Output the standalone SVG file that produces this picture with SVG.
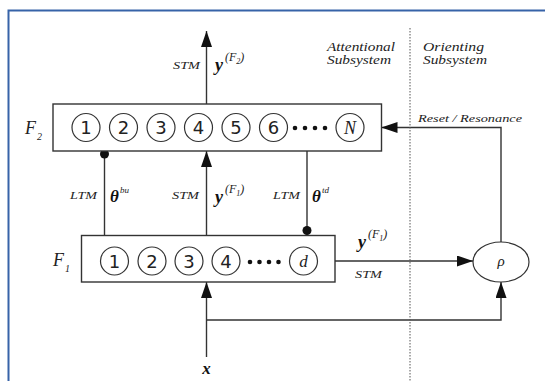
<svg xmlns="http://www.w3.org/2000/svg" width="545" height="381" viewBox="0 0 545 381">
<style>
.frame{stroke:#3763a8;stroke-width:2;fill:none}
.box{fill:#fff;stroke:#333;stroke-width:1.4}
.cell{fill:#fff;stroke:#333;stroke-width:1.2}
.num{font-family:"DejaVu Sans",sans-serif;font-size:18px;fill:#222;text-anchor:middle}
.var{font-family:"Liberation Serif",serif;font-style:italic;fill:#222}
.bold{font-family:"Liberation Serif",serif;font-style:italic;font-weight:bold;fill:#111}
.lab{font-family:"Liberation Serif",serif;font-style:italic;font-size:10px;fill:#222}
.ttl{font-family:"Liberation Serif",serif;font-style:italic;font-size:12.5px;fill:#222}
.conn{stroke:#333;stroke-width:1.4;fill:none}
.dot{fill:#111}
</style>
<defs>
<marker id="arr" markerUnits="userSpaceOnUse" markerWidth="16" markerHeight="11" refX="16" refY="5.5" orient="auto">
<path d="M0,0 L16,5.5 L0,11 z" fill="#111"/>
</marker>
</defs>
<rect width="545" height="381" fill="#fff"/>
<path class="frame" d="M8.5,381 V10.5 H545"/>

<g id="connectors">
<line class="conn" x1="206.5" y1="104" x2="206.5" y2="31" marker-end="url(#arr)"/>
<line class="conn" x1="104.5" y1="151" x2="104.5" y2="235.5"/>
<circle class="dot" cx="104.5" cy="154" r="4.5"/>
<line class="conn" x1="206.5" y1="235.5" x2="206.5" y2="151" marker-end="url(#arr)"/>
<line class="conn" x1="307" y1="151" x2="307" y2="235.5"/>
<circle class="dot" cx="307" cy="230.5" r="4.5"/>
<line class="conn" x1="335" y1="261" x2="473" y2="261" marker-end="url(#arr)"/>
<polyline class="conn" points="501,242 501,127.5 381.5,127.5" marker-end="url(#arr)"/>
<line class="conn" x1="206.5" y1="357" x2="206.5" y2="282" marker-end="url(#arr)"/>
<polyline class="conn" points="206.5,320 501,320 501,282" marker-end="url(#arr)"/>
<line x1="410" y1="28" x2="410" y2="381" stroke="#555" stroke-width="1" stroke-dasharray="1.5,1.5"/>
</g>

<g id="labels">
<text class="ttl" x="327" y="51" textLength="68" lengthAdjust="spacingAndGlyphs">Attentional</text>
<text class="ttl" x="327" y="64" textLength="64" lengthAdjust="spacingAndGlyphs">Subsystem</text>
<text class="ttl" x="423" y="51" textLength="61" lengthAdjust="spacingAndGlyphs">Orienting</text>
<text class="ttl" x="423" y="64" textLength="64" lengthAdjust="spacingAndGlyphs">Subsystem</text>
<text class="lab" x="418" y="122" font-size="11" textLength="104" lengthAdjust="spacingAndGlyphs">Reset / Resonance</text>
<text class="lab" x="173" y="69" textLength="27" lengthAdjust="spacingAndGlyphs">STM</text>
<text class="bold" x="215" y="71" font-size="18">y</text>
<text class="var" x="225" y="61" font-size="12">(F<tspan font-size="8" dy="3">2</tspan><tspan dy="-3">)</tspan></text>
<text class="lab" x="70" y="199" textLength="27" lengthAdjust="spacingAndGlyphs">LTM</text>
<text class="bold" x="110" y="202" font-size="17">θ</text>
<text class="var" x="120" y="193" font-size="9">bu</text>
<text class="lab" x="172" y="199" textLength="27" lengthAdjust="spacingAndGlyphs">STM</text>
<text class="bold" x="215" y="203" font-size="18">y</text>
<text class="var" x="225" y="193" font-size="12">(F<tspan font-size="8" dy="3">1</tspan><tspan dy="-3">)</tspan></text>
<text class="lab" x="273" y="199" textLength="27" lengthAdjust="spacingAndGlyphs">LTM</text>
<text class="bold" x="312" y="202" font-size="17">θ</text>
<text class="var" x="322" y="193" font-size="9">td</text>
<text class="bold" x="358" y="248" font-size="18">y</text>
<text class="var" x="368" y="238" font-size="12">(F<tspan font-size="8" dy="3">1</tspan><tspan dy="-3">)</tspan></text>
<text class="lab" x="355" y="278" textLength="27" lengthAdjust="spacingAndGlyphs">STM</text>
<text class="bold" x="206.5" y="374" font-size="17" text-anchor="middle">x</text>
</g>

<g id="F2">
<text class="var" x="25" y="134" font-size="18">F</text>
<text class="var" x="37" y="140" font-size="10">2</text>
<rect class="box" x="53" y="104" width="328.5" height="47"/>
<circle class="cell" cx="86" cy="127.5" r="14"/><text class="num" x="86" y="134">1</text>
<circle class="cell" cx="123.5" cy="127.5" r="14"/><text class="num" x="123.5" y="134">2</text>
<circle class="cell" cx="161" cy="127.5" r="14"/><text class="num" x="161" y="134">3</text>
<circle class="cell" cx="198.5" cy="127.5" r="14"/><text class="num" x="198.5" y="134">4</text>
<circle class="cell" cx="236" cy="127.5" r="14"/><text class="num" x="236" y="134">5</text>
<circle class="cell" cx="273.5" cy="127.5" r="14"/><text class="num" x="273.5" y="134">6</text>
<circle class="dot" cx="295" cy="128" r="2.3"/><circle class="dot" cx="305" cy="128" r="2.3"/><circle class="dot" cx="315" cy="128" r="2.3"/><circle class="dot" cx="325" cy="128" r="2.3"/>
<circle class="cell" cx="350" cy="127.5" r="14"/><text class="var" x="350" y="134" font-size="18" text-anchor="middle">N</text>
</g>

<g id="F1">
<text class="var" x="53" y="266" font-size="18">F</text>
<text class="var" x="65" y="272" font-size="10">1</text>
<rect class="box" x="81.5" y="235.5" width="253.5" height="46.5"/>
<circle class="cell" cx="114.5" cy="261" r="14"/><text class="num" x="114.5" y="267.5">1</text>
<circle class="cell" cx="152" cy="261" r="14"/><text class="num" x="152" y="267.5">2</text>
<circle class="cell" cx="189" cy="261" r="14"/><text class="num" x="189" y="267.5">3</text>
<circle class="cell" cx="226" cy="261" r="14"/><text class="num" x="226" y="267.5">4</text>
<circle class="dot" cx="250" cy="262" r="2.3"/><circle class="dot" cx="259.5" cy="262" r="2.3"/><circle class="dot" cx="269" cy="262" r="2.3"/><circle class="dot" cx="278.5" cy="262" r="2.3"/>
<circle class="cell" cx="303.5" cy="261" r="14"/><text class="var" x="303.5" y="267" font-size="17" text-anchor="middle">d</text>
</g>

<g id="rho">
<ellipse class="cell" cx="501" cy="262" rx="28" ry="20"/>
<text class="var" x="501" y="266" font-size="15" text-anchor="middle">ρ</text>
</g>
</svg>
